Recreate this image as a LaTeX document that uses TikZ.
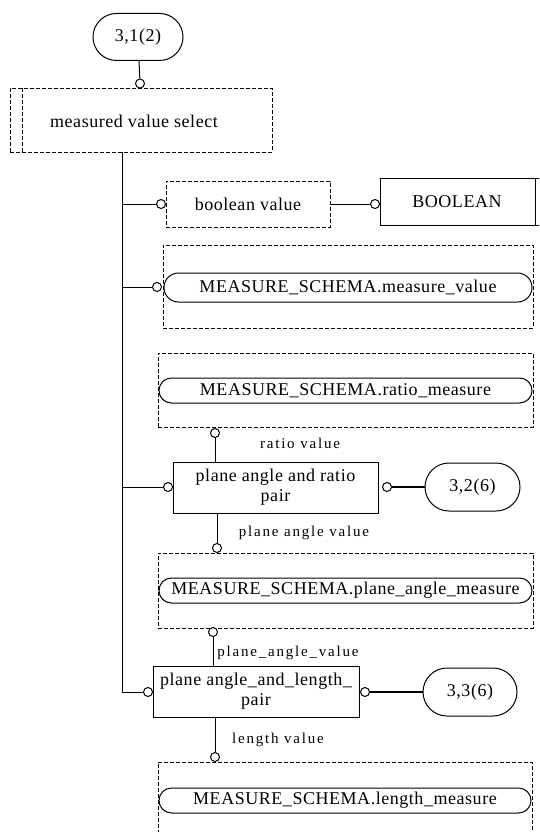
\documentclass[tikz,border=0pt]{standalone}
\usepackage{fontspec}
\setmainfont[LetterSpace=3]{Liberation Serif}
\newfontfamily\lblfont[LetterSpace=12]{Liberation Serif}
\usetikzlibrary{shapes.misc}
\begin{document}
\begin{tikzpicture}[x=1pt,y=-1pt,
  every node/.style={font=\fontsize{18}{20}\selectfont, inner sep=0pt, align=center},
  dbox/.style={draw, dash pattern=on 4pt off 2pt, line width=0.8pt},
  sbox/.style={draw, line width=1pt},
  stad/.style={draw, rounded rectangle, line width=1pt},
  pin/.style={circle, draw, fill=white, minimum size=9pt, line width=1pt},
  lbl/.style={font=\lblfont\fontsize{15}{17}\selectfont},
  ln/.style={line width=1pt},
  thk/.style={line width=2.2pt},
  dln/.style={line width=0.8pt, dash pattern=on 4pt off 2pt}]
\useasboundingbox (0,0) rectangle (539,832);
\clip (0,0) rectangle (539,832);

% top reference
\node[stad, minimum width=90pt, minimum height=47pt] (o312) at (138,37) {3,1(2)};
% measured value select
\node[dbox, minimum width=262pt, minimum height=64pt] (mvs) at (141,120) {};
\node (mvst) at (134,121) {measured value select};
\draw[dln] (22,88) -- (22,152);
% boolean
\node[dbox, minimum width=164pt, minimum height=46pt] (bv) at (248,204) {boolean value};
\node[sbox, minimum width=165pt, minimum height=47pt] (bool) at (462.5,201.5) {};
\node (boolt) at (457,201.5) {BOOLEAN};
\draw[ln] (535,178) -- (535,225);
% measure value
\node[dbox, minimum width=370pt, minimum height=83pt] (mv) at (348,286.5) {};
\node[stad, minimum width=368pt, minimum height=29pt] (mvi) at (348,287.5) {MEASURE\_SCHEMA.measure\_value};
% ratio measure
\node[dbox, minimum width=375pt, minimum height=74pt] (rm) at (345.5,390) {};
\node[stad, minimum width=373pt, minimum height=25pt] (rmi) at (345.5,390.5) {MEASURE\_SCHEMA.ratio\_measure};
% plane angle and ratio pair
\node[sbox, minimum width=205pt, minimum height=51pt] (par) at (275.5,487.5) {plane angle and ratio\\pair};
\node[stad, minimum width=95pt, minimum height=48pt] (o326) at (472.5,487) {3,2(6)};
% plane angle measure
\node[dbox, minimum width=375pt, minimum height=75pt] (pam) at (345.5,590.5) {};
\node[stad, minimum width=373pt, minimum height=25pt] (pami) at (345.5,590.5) {MEASURE\_SCHEMA.plane\_angle\_measure};
% plane angle and length pair
\node[sbox, minimum width=206pt, minimum height=51pt] (palp) at (256,691.5) {plane angle\_and\_length\_\\pair};
\node[stad, minimum width=94pt, minimum height=48pt] (o336) at (470,692) {3,3(6)};
% length measure
\node[dbox, minimum width=374pt, minimum height=90pt] (lm) at (345,807) {};
\node[stad, minimum width=372pt, minimum height=25pt] (lmi) at (345,800.5) {MEASURE\_SCHEMA.length\_measure};

% labels
\node[lbl] (l1) at (300,443) {ratio value};
\node[lbl] (l2) at (304,533) {plane angle value};
\node[lbl] (l3) at (288,653) {plane\_angle\_value};
\node[lbl] (l4) at (278,740) {length value};

% pins
\node[pin] (pA) at (140,83.5) {};
\node[pin] (pB) at (161,204) {};
\node[pin] (pC) at (375,204) {};
\node[pin] (pD) at (157,287) {};
\node[pin] (pE) at (215,433) {};
\node[pin] (pF) at (168,487) {};
\node[pin] (pG) at (387,487) {};
\node[pin] (pH) at (217,548) {};
\node[pin] (pI) at (213,632) {};
\node[pin] (pJ) at (148,692) {};
\node[pin] (pK) at (365,692) {};
\node[pin] (pL) at (215,757) {};

% trunk coordinates
\coordinate (t1) at (122,204);
\coordinate (t2) at (122,287);
\coordinate (t3) at (122,487);
\coordinate (t4) at (122,692);

% connectors
\draw[ln] (o312) -- (pA);
\draw[ln] (mvs.south -| t1) -- (t4) -- (pJ);
\draw[ln] (t1) -- (pB);
\draw[ln] (bv.east) -- (pC);
\draw[ln] (t2) -- (pD);
\draw[ln] (pE) -- (pE |- par.north);
\draw[ln] (t3) -- (pF);
\draw[thk] (pG) -- (o326);
\draw[ln] (pH |- par.south) -- (pH);
\draw[ln] (pI) -- (pI |- palp.north);
\draw[thk] (pK) -- (o336);
\draw[ln] (pL |- palp.south) -- (pL);
\end{tikzpicture}
\end{document}
